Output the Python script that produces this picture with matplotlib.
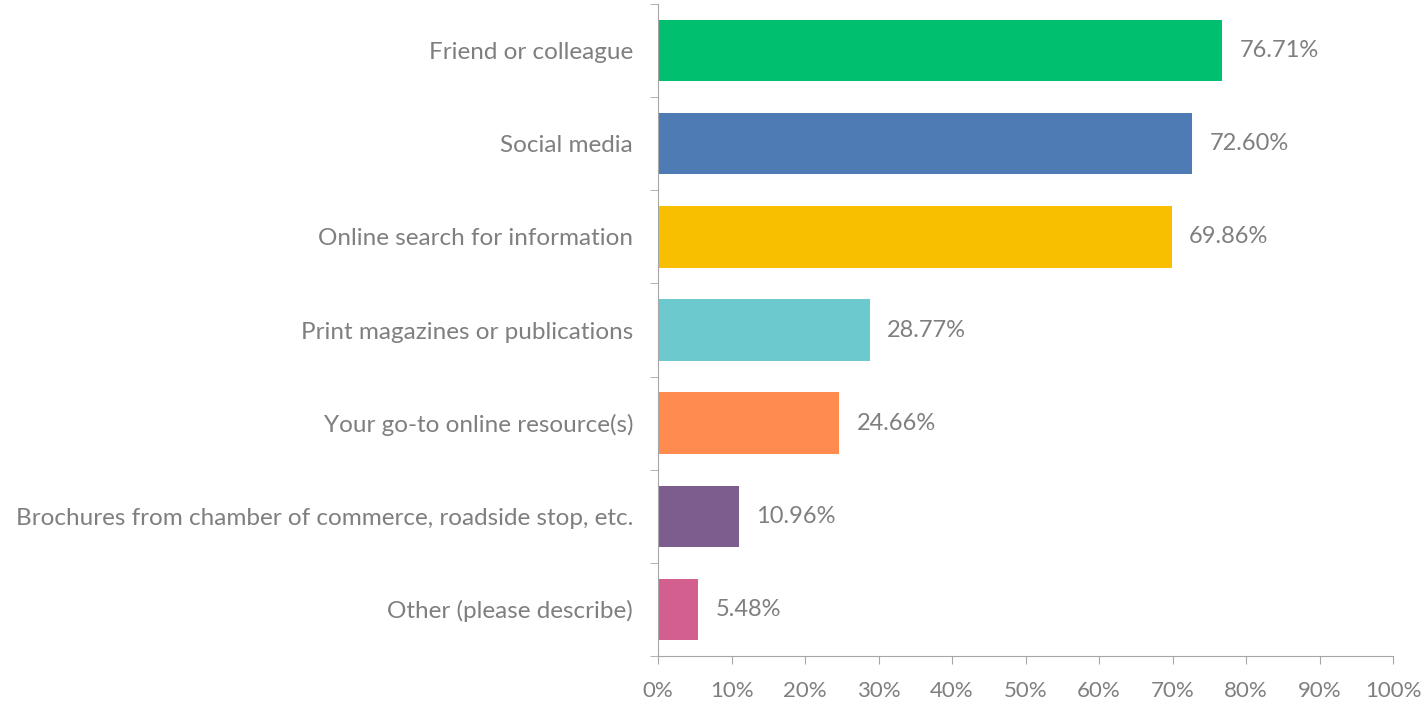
import matplotlib
matplotlib.use("Agg")
import matplotlib.pyplot as plt
from matplotlib.ticker import PercentFormatter, FixedLocator

categories = [
    "Friend or colleague",
    "Social media",
    "Online search for information",
    "Print magazines or publications",
    "Your go-to online resource(s)",
    "Brochures from chamber of commerce, roadside stop, etc.",
    "Other (please describe)",
]
values = [76.71, 72.60, 69.86, 28.77, 24.66, 10.96, 5.48]
colors = ["#00BF6F", "#4F7BB5", "#F8BF00", "#6CC9CE", "#FF8B4F", "#7C5D8D", "#D35F8F"]
xticks = list(range(0, 101, 10))

grey = "#7F7F7F"
plt.rcParams["font.family"] = ["Lato", "DejaVu Sans"]

fig = plt.figure(figsize=(14.25, 7.06), dpi=100)
ax = fig.add_axes([0.4618, 0.0708, 0.5158, 0.9235])

y = list(range(len(categories)))
ax.barh(y, values, height=0.66, color=colors)
for yi, v in zip(y, values):
    ax.text(v + 2.4, yi, f"{v:.2f}%", va="center", ha="left", fontsize=17, color=grey)

ax.set_xlim(0, 100)
ax.set_ylim(len(categories) - 0.5, -0.5)
ax.set_xticks(xticks)
ax.xaxis.set_major_formatter(PercentFormatter(decimals=0))
ax.set_yticks(y)
ax.set_yticklabels(categories)
ax.yaxis.set_minor_locator(FixedLocator([i - 0.5 for i in range(len(categories) + 1)]))
ax.tick_params(axis="y", which="major", length=0, pad=18, labelsize=17.5, labelcolor=grey)
ax.tick_params(axis="y", which="minor", length=6, color="#A6A6A6", direction="out")
ax.tick_params(axis="x", length=6, color="#A6A6A6", labelsize=16, labelcolor=grey, pad=12)

for s in ["top", "right"]:
    ax.spines[s].set_visible(False)
for s in ["left", "bottom"]:
    ax.spines[s].set_color("#A6A6A6")

fig.savefig("out.png", dpi=100)
